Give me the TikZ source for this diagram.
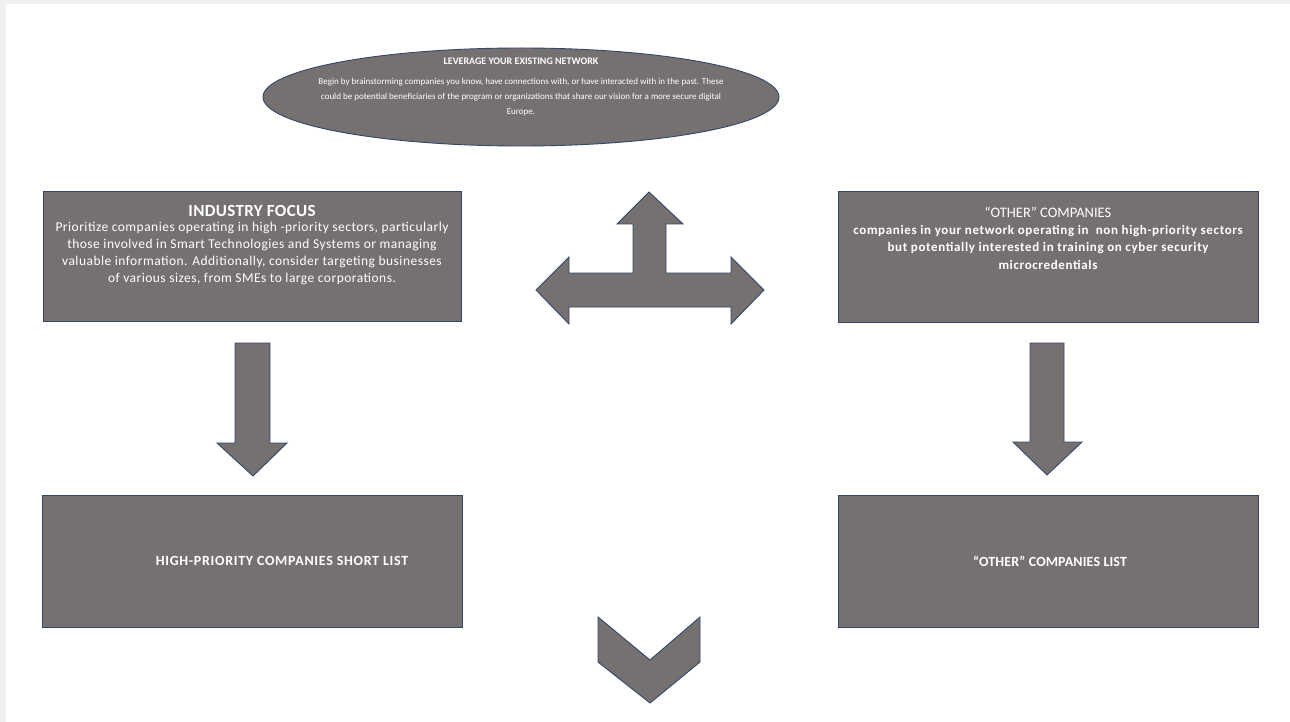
\documentclass[tikz,border=0pt]{standalone}
\usepackage{fontspec}
\setmainfont{Carlito}
\usetikzlibrary{shapes.geometric}
\definecolor{boxfill}{HTML}{767171}
\definecolor{boxline}{HTML}{34466A}
\definecolor{bggray}{HTML}{F0F0F0}
\begin{document}
\begin{tikzpicture}[x=1pt,y=-1pt,
  shp/.style={fill=boxfill, draw=boxline, line width=0.9pt},
  txt/.style={text=white, align=center, inner sep=0pt}]
\useasboundingbox (0,0) rectangle (1290,722);
\fill[bggray] (0,0) rectangle (1290,722);
\fill[white] (6,4) rectangle (1290,722);
% top ellipse
\node[shp, ellipse, minimum width=516pt, minimum height=98pt, inner sep=0pt] (net) at (521,97) {};
\node[txt, font=\fontsize{10}{12}\selectfont\bfseries] (nettitle) at (521,61) {LEVERAGE YOUR EXISTING NETWORK};
\node[txt, anchor=north, font=\fontsize{9}{15}\selectfont] (netbody) at (521,78) {Begin by brainstorming companies you know, have connections with, or have interacted with in the past. These\\could be potential beneficiaries of the program or organizations that share our vision for a more secure digital\\Europe.};
% boxes
\node[shp, rectangle, minimum width=418pt, minimum height=130pt, inner sep=0pt] (ind) at (252,256) {};
\node[txt, font=\fontsize{17}{19}\selectfont\bfseries\addfontfeatures{LetterSpace=2}] (indtitle) at (252,210.5) {INDUSTRY FOCUS};
\node[txt, anchor=north, font=\fontsize{13.5}{17}\selectfont\addfontfeatures{LetterSpace=3.5}] (indbody) at (252,222) {Prioritize companies operating in high -priority sectors, particularly\\those involved in Smart Technologies and Systems or managing\\valuable information. Additionally, consider targeting businesses\\of various sizes, from SMEs to large corporations.};
\node[shp, rectangle, minimum width=420pt, minimum height=131pt, inner sep=0pt] (oth) at (1048,256.5) {};
\node[txt, font=\fontsize{14.5}{16}\selectfont] (othtitle) at (1048,212) {“OTHER” COMPANIES};
\node[txt, anchor=north, font=\fontsize{13}{17.5}\selectfont\bfseries\addfontfeatures{LetterSpace=5}] (othbody) at (1048,225) {companies in your network operating in\ \ non high-priority sectors\\but potentially interested in training on cyber security\\microcredentials};
\node[shp, rectangle, minimum width=420pt, minimum height=132pt, inner sep=0pt] (hp) at (252,561) {};
\node[txt, font=\fontsize{14}{16}\selectfont\bfseries\addfontfeatures{LetterSpace=5}] (hptext) at (282,561) {HIGH-PRIORITY COMPANIES SHORT LIST};
\node[shp, rectangle, minimum width=420pt, minimum height=132pt, inner sep=0pt] (ol) at (1048,561) {};
\node[txt, font=\fontsize{14}{16}\selectfont\bfseries\addfontfeatures{LetterSpace=1}] (oltext) at (1050,561) {“OTHER” COMPANIES LIST};
% T arrow
\fill[shp] (649,192) -- (683,224) -- (666,224) -- (666,273) -- (731,273) -- (731,257) -- (764,290) -- (731,324) -- (731,307) -- (569,307) -- (569,324) -- (536,290) -- (569,257) -- (569,273) -- (633,273) -- (633,224) -- (617,224) -- cycle;
% down arrows
\fill[shp] (235,343) -- (270,343) -- (270,443) -- (287,443) -- (253,476) -- (217,443) -- (235,443) -- cycle;
\fill[shp] (1030,343) -- (1064,343) -- (1064,442) -- (1082,442) -- (1047,475) -- (1013,442) -- (1030,442) -- cycle;
% chevron
\fill[shp] (598,617) -- (650,660) -- (700,617) -- (700,662) -- (650,703) -- (598,662) -- cycle;
\end{tikzpicture}
\end{document}
